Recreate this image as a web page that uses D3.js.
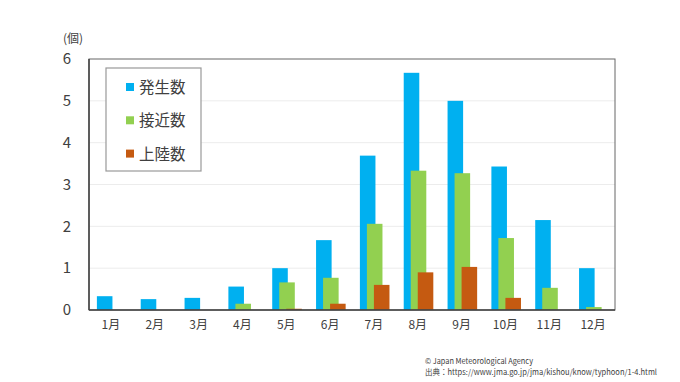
<!DOCTYPE html>
<html>
<head>
<meta charset="utf-8">
<script src="https://cdn.jsdelivr.net/npm/d3@7"></script>
<style>
body { margin: 0; background: #fff; }
text { font-family: "Noto Sans CJK JP", "Noto Sans", sans-serif; fill: #404040; }
</style>
</head>
<body>
<svg></svg>
<script>
// monthly averages of typhoons (1991-2020)
var months = ["1月","2月","3月","4月","5月","6月","7月","8月","9月","10月","11月","12月"];
var hassei = [0.33, 0.26, 0.29, 0.56, 1.0, 1.67, 3.69, 5.67, 5.0, 3.43, 2.15, 1.0];
var sekkin = [0, 0, 0, 0.15, 0.66, 0.77, 2.06, 3.33, 3.27, 1.72, 0.53, 0.07];
var jouriku = [0, 0, 0, 0, 0.03, 0.15, 0.6, 0.9, 1.03, 0.29, 0, 0];
var seriesNames = ["発生数", "接近数", "上陸数"];
var colors = ["#00B0F0", "#92D050", "#C55A11"];
var yTicks = [0, 1, 2, 3, 4, 5, 6];

var screen = {width: 680, height: 382};
var margins = {top: 59, right: 65, bottom: 72, left: 89};

var svg = d3.select("svg")
    .attr("width", screen.width)
    .attr("height", screen.height);

var width = screen.width - margins.left - margins.right;
var height = screen.height - margins.top - margins.bottom;

var xScale = d3.scaleBand()
    .domain(months)
    .range([0, width])
    .padding(0);

var yScale = d3.scaleLinear()
    .domain([0, 6])
    .range([height, 0]);

var g = svg.append("g")
    .attr("transform", "translate(" + margins.left + "," + margins.top + ")");

// gridlines
g.append("g")
    .selectAll("line")
    .data(yTicks.slice(1, -1))
    .enter()
    .append("line")
    .attr("x1", 0)
    .attr("x2", width)
    .attr("y1", function(d){ return yScale(d); })
    .attr("y2", function(d){ return yScale(d); })
    .attr("stroke", "#ececec")
    .attr("stroke-width", 1);

// bars
var bw = xScale.bandwidth();
var barWidth = bw * 0.355;
var step = bw * 0.16;
var start = bw * 0.18;
var allSeries = [hassei, sekkin, jouriku];

allSeries.forEach(function(values, si){
    g.append("g")
        .selectAll("rect")
        .data(values)
        .enter()
        .append("rect")
        .attr("x", function(d, i){ return xScale(months[i]) + start + step * si; })
        .attr("y", function(d){ return yScale(d); })
        .attr("width", barWidth)
        .attr("height", function(d){ return height - yScale(d); })
        .attr("fill", colors[si]);
});

// frame
g.append("rect")
    .attr("x", 0)
    .attr("y", 0)
    .attr("width", width)
    .attr("height", height)
    .attr("fill", "none")
    .attr("stroke", "#666")
    .attr("stroke-width", 1);

g.append("line")
    .attr("x1", 0).attr("x2", 0)
    .attr("y1", 0).attr("y2", height)
    .attr("stroke", "#404040")
    .attr("stroke-width", 1.5);
g.append("line")
    .attr("x1", 0).attr("x2", width)
    .attr("y1", height).attr("y2", height)
    .attr("stroke", "#404040")
    .attr("stroke-width", 1.5);

// axes
var yAxis = d3.axisLeft(yScale)
    .tickValues(yTicks)
    .tickSize(0)
    .tickPadding(18)
    .tickFormat(d3.format("d"));
var yg = g.append("g").call(yAxis);
yg.select(".domain").remove();
yg.selectAll("text")
    .style("font-size", "15px")
    .attr("fill", "#404040");

var xAxis = d3.axisBottom(xScale)
    .tickSize(0)
    .tickPadding(10);
var xg = g.append("g")
    .attr("transform", "translate(0," + height + ")")
    .call(xAxis);
xg.select(".domain").remove();
xg.selectAll("text")
    .style("font-size", "12px")
    .attr("fill", "#404040");

svg.append("text")
    .attr("x", 63)
    .attr("y", 43)
    .style("font-size", "12px")
    .text("(個)");

// legend
var legend = svg.append("g")
    .attr("transform", "translate(106,68)");
legend.append("rect")
    .attr("width", 95)
    .attr("height", 103)
    .attr("fill", "#fff")
    .attr("stroke", "#999")
    .attr("stroke-width", 1.2);
var items = legend.selectAll(".item")
    .data(seriesNames)
    .enter()
    .append("g")
    .attr("transform", function(d, i){ return "translate(20," + (19 + i * 33.3) + ")"; });
items.append("rect")
    .attr("x", 0)
    .attr("y", -4)
    .attr("width", 8)
    .attr("height", 8)
    .attr("fill", function(d, i){ return colors[i]; });
items.append("text")
    .attr("x", 13)
    .attr("y", 6)
    .style("font-size", "15.5px")
    .text(function(d){ return d; });

// source note
svg.append("text")
    .attr("x", 425)
    .attr("y", 364)
    .style("font-size", "8px")
    .attr("textLength", 108)
    .attr("lengthAdjust", "spacingAndGlyphs")
    .text("© Japan Meteorological Agency");
svg.append("text")
    .attr("x", 425)
    .attr("y", 375)
    .style("font-size", "8px")
    .attr("textLength", 232)
    .attr("lengthAdjust", "spacingAndGlyphs")
    .text("出典：https://www.jma.go.jp/jma/kishou/know/typhoon/1-4.html");
</script>
</body>
</html>
